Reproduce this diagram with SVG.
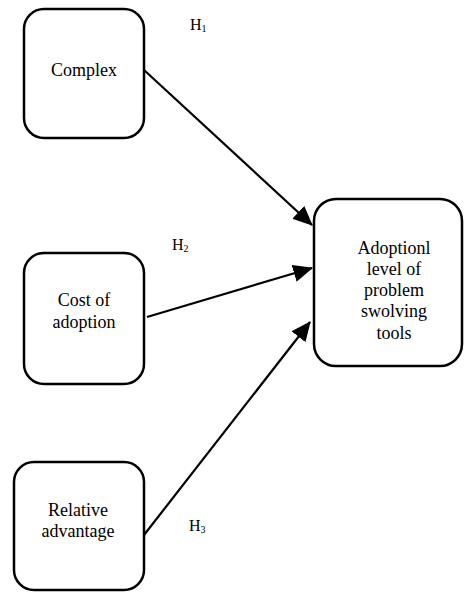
<svg xmlns="http://www.w3.org/2000/svg" width="464" height="592" viewBox="0 0 464 592">
<style>
.box{fill:#fff;stroke:#000;stroke-width:2.5}
.t{font-family:"Liberation Serif","Times New Roman",serif;font-size:18px;fill:#000;text-anchor:middle}
.h{font-family:"Liberation Serif","Times New Roman",serif;font-size:16px;fill:#000}
.sub{font-size:10px}
.c{stroke:#000;stroke-width:2.2;fill:none;marker-end:url(#ah)}
</style>
<defs>
<marker id="ah" markerWidth="9" markerHeight="8" refX="8.5" refY="4" orient="auto" markerUnits="strokeWidth">
<path d="M0,0 L9,4 L0,8 Z" fill="#000"/>
</marker>
</defs>
<g id="connectors">
<line class="c" x1="144" y1="70" x2="312" y2="225"/>
<line class="c" x1="147" y1="317" x2="312" y2="268"/>
<line class="c" x1="144" y1="535" x2="310" y2="322"/>
</g>
<g id="complex">
<rect class="box" x="24" y="9" width="120" height="129" rx="20"/>
<text class="t" x="84" y="76">Complex</text>
</g>
<g id="cost">
<rect class="box" x="24" y="253" width="120" height="131" rx="20"/>
<text class="t" x="84" y="306">Cost of</text>
<text class="t" x="84" y="328">adoption</text>
</g>
<g id="relative">
<rect class="box" x="14" y="462" width="130" height="128" rx="20"/>
<text class="t" x="78" y="516">Relative</text>
<text class="t" x="78" y="537">advantage</text>
</g>
<g id="adoption">
<rect class="box" x="314" y="199" width="148" height="167" rx="22"/>
<text class="t" x="394" y="254">Adoptionl</text>
<text class="t" x="394" y="275">level of</text>
<text class="t" x="394" y="296">problem</text>
<text class="t" x="394" y="317">swolving</text>
<text class="t" x="394" y="339">tools</text>
</g>
<g id="labels">
<text class="h" x="190" y="30">H<tspan class="sub" dy="2">1</tspan></text>
<text class="h" x="172" y="250">H<tspan class="sub" dy="2">2</tspan></text>
<text class="h" x="189" y="531">H<tspan class="sub" dy="2">3</tspan></text>
</g>
</svg>
